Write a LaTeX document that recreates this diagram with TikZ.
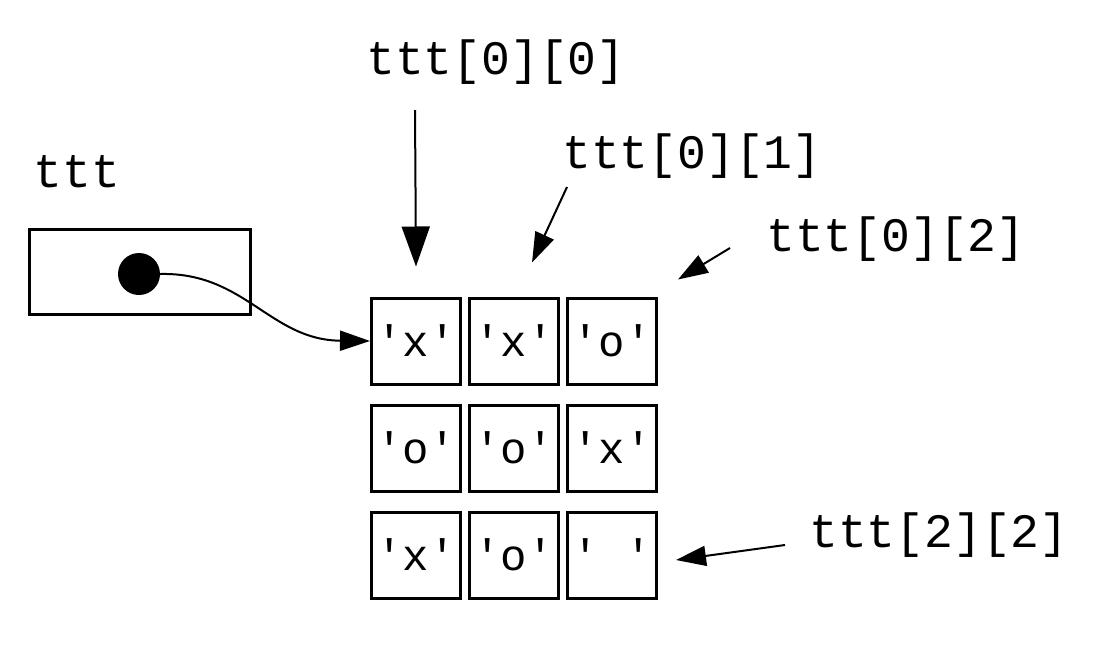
\documentclass[tikz,border=0pt]{standalone}
\usepackage{fontspec}
\setmonofont{Liberation Mono}
\usetikzlibrary{arrows.meta,positioning}

\begin{document}
\begin{tikzpicture}[x=1pt, y=-1pt, >={Triangle[length=30pt,width=20pt]},
  every node/.style={font=\ttfamily\fontsize{48}{56}\selectfont},
  cell/.style={draw, line width=3pt, minimum width=89pt, minimum height=86pt, inner sep=0pt, font=\ttfamily\fontsize{44}{50}\selectfont},
  pointer/.style={->, line width=2pt}]
  \useasboundingbox (0,0) rectangle (1108,646);

  % variable ttt holding the pointer
  \node (tttname) at (77,172) {ttt};
  \node[draw, line width=3pt, minimum width=221pt, minimum height=85pt] (tttbox) at (140,272) {};
  \node[circle, fill, inner sep=0pt, minimum size=42pt] (dot) at (139,274) {};

  % the 3x3 board
  \foreach \vals [count=\r from 0] in {{x,x,o},{o,o,x},{x,o,\phantom{x}}}
    \foreach \v [count=\c from 0] in \vals
      \node[cell] (c\r\c) at ({416+98*\c},{341+107*\r}) {'\v'};

  % index labels
  \node (lab00) at (496,62) {ttt[0][0]};
  \node (lab01) at (692,156) {ttt[0][1]};
  \node (lab02) at (896,239) {ttt[0][2]};
  \node (lab22) at (939,535) {ttt[2][2]};

  \coordinate (s00) at (415,110);
  \coordinate (s01) at (567,187);
  \coordinate (s02) at (730,248);
  \coordinate (s22) at (785,545);
  \coordinate[above=30pt of c00] (t00);
  \coordinate[above right=34pt and 18pt of c01.north] (t01);
  \coordinate[above right=17pt and 20pt of c02.north east] (t02);
  \coordinate[below right=5pt and 18pt of c22.east] (t22);

  \draw[pointer, >={Triangle[length=40pt,width=28pt]}] (s00) -- (t00);
  \draw[pointer] (s01) -- (t01);
  \draw[pointer] (s02) -- (t02);
  \draw[pointer] (s22) -- (t22);
  \draw[pointer] (dot.east) .. controls (245,272) and (270,340) .. (c00.west);
\end{tikzpicture}
\end{document}
